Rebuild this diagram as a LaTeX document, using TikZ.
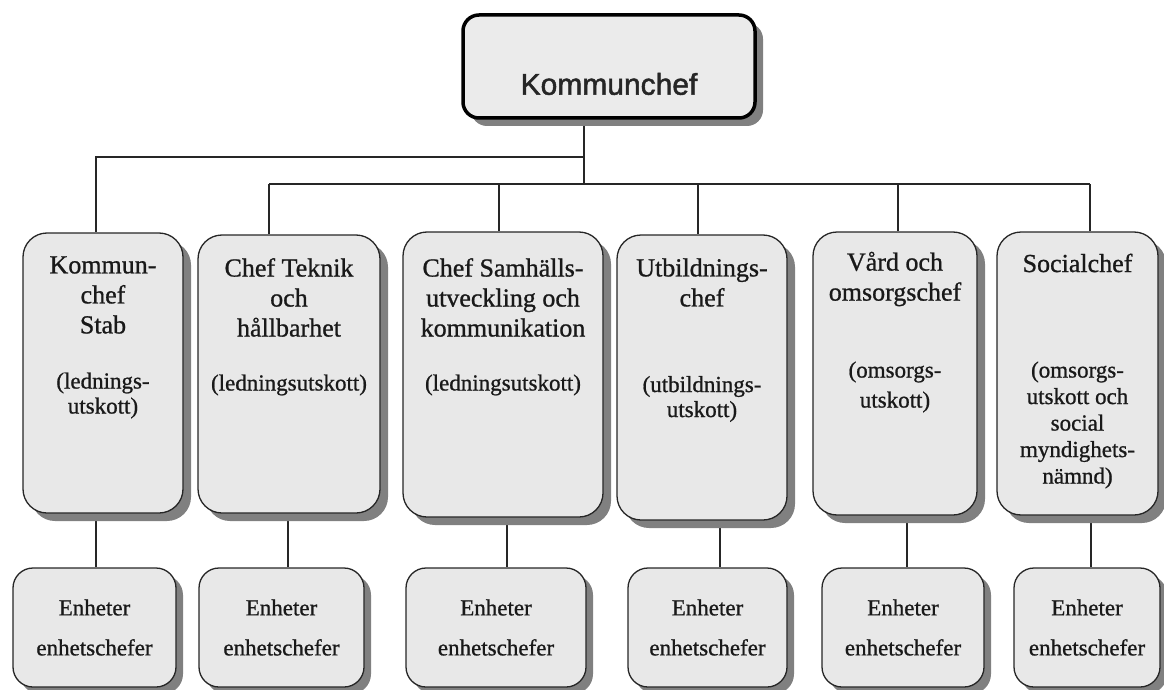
\documentclass[tikz,border=0pt]{standalone}
\usepackage{fontspec}
\setmainfont{Liberation Serif}[FakeBold=0.9]
\newfontfamily\chiefsans{Liberation Sans}[FakeBold=1.6]
\usetikzlibrary{shadows,backgrounds}
\tikzset{
  boxshadow/.style={drop shadow={shadow xshift=#1,shadow yshift=-#1,fill=black!50,opacity=1}},
  chief/.style={draw=black, line width=3.5pt, rounded corners=16pt, fill=black!8,
    minimum width=292pt, minimum height=103pt, boxshadow=8pt},
  dept/.style={draw=black!85, line width=1.3pt, rounded corners=24pt, fill=black!9,
    inner sep=0pt, boxshadow=8pt},
  unitbox/.style={draw=black!85, line width=1.3pt, rounded corners=20pt, fill=black!9,
    inner sep=0pt, minimum height=119pt, boxshadow=7pt},
  head/.style={align=center, inner sep=0pt, text=black!90, font=\fontsize{26}{30}\selectfont},
  sub/.style={align=center, inner sep=0pt, text=black!90, font=\fontsize{23}{#1}\selectfont},
  sub/.default=25,
  conn/.style={draw=black!85, line width=1.2pt},
}
\begin{document}
\begin{tikzpicture}[x=1pt,y=-1pt]
\useasboundingbox (0,0) rectangle (1164,690);
%%% top
\node[chief] (top) at (609,66.5) {};
\node[font=\chiefsans\fontsize{30}{36}\selectfont, text=black!85, inner sep=0pt] (toptxt) at (609,84) {Kommunchef};
%%% the six departments
\node[dept, minimum width=160pt, minimum height=280pt] (col1) at (103,373) {};
\node[dept, minimum width=182pt, minimum height=278pt] (col2) at (289,374) {};
\node[dept, minimum width=200pt, minimum height=285pt] (col3) at (503,374.5) {};
\node[dept, minimum width=170pt, minimum height=285pt] (col4) at (702,377.5) {};
\node[dept, minimum width=164pt, minimum height=283pt] (col5) at (895,373.5) {};
\node[dept, minimum width=161pt, minimum height=283pt] (col6) at (1077.5,373.5) {};
%
\node[head] (t1) at (103,295) {Kommun-\\chef\\Stab};
\node[sub] (s1) at (103,395.5) {(lednings-\\utskott)};
\node[head] (t2) at (289,297.5) {Chef Teknik\\och\\hållbarhet};
\node[sub] (s2) at (289,385) {(ledningsutskott)};
\node[head] (t3) at (503,297.5) {Chef Samhälls-\\utveckling och\\kommunikation};
\node[sub] (s3) at (503,385) {(ledningsutskott)};
\node[head] (t4) at (702,282.5) {Utbildnings-\\chef};
\node[sub] (s4) at (702,399) {(utbildnings-\\utskott)};
\node[head] (t5) at (895,279) {Vård och\\omsorgschef};
\node[sub=30] (s5) at (895,387) {(omsorgs-\\utskott)};
\node[head] (t6) at (1077.5,263) {Socialchef};
\node[sub=26.5] (s6) at (1077.5,425) {(omsorgs-\\utskott och\\social\\myndighets-\\nämnd)};
%%% units
\node[unitbox, minimum width=163pt] (u1) at (94.5,627.5) {};
\node[unitbox, minimum width=165pt] (u2) at (281.5,627.5) {};
\node[unitbox, minimum width=180pt] (u3) at (496,627.5) {};
\node[unitbox, minimum width=159pt] (u4) at (707.5,627.5) {};
\node[unitbox, minimum width=162pt] (u5) at (903,627.5) {};
\node[unitbox, minimum width=146pt] (u6) at (1087,627.5) {};
\foreach \i in {1,...,6}
  \node[sub=40] (ut\i) at (u\i) {Enheter\\enhetschefer};
%%% connectors
\coordinate (hub) at (584,184);
\coordinate (d1) at (96,157);
\coordinate (d2) at (269,184);
\coordinate (d3) at (499,184);
\coordinate (d4) at (698,184);
\coordinate (d5) at (898,184);
\coordinate (d6) at (1090,184);
\coordinate (e1) at (96,0);
\coordinate (e2) at (288,0);
\coordinate (e3) at (507,0);
\coordinate (e4) at (720,0);
\coordinate (e5) at (907,0);
\coordinate (e6) at (1091,0);
\begin{scope}[on background layer]
\draw[conn] (top.south -| hub) -- (hub);
\draw[conn] (hub |- d1) -- (d1) -- (d1 |- col1.north);
\draw[conn] (d2) -- (d6);
\foreach \i in {2,...,6}
  \draw[conn] (d\i) -- (d\i |- col\i.north);
\foreach \i in {1,...,6}
  \draw[conn] (e\i |- col\i.south) -- (e\i |- u\i.north);
\end{scope}
\end{tikzpicture}
\end{document}
